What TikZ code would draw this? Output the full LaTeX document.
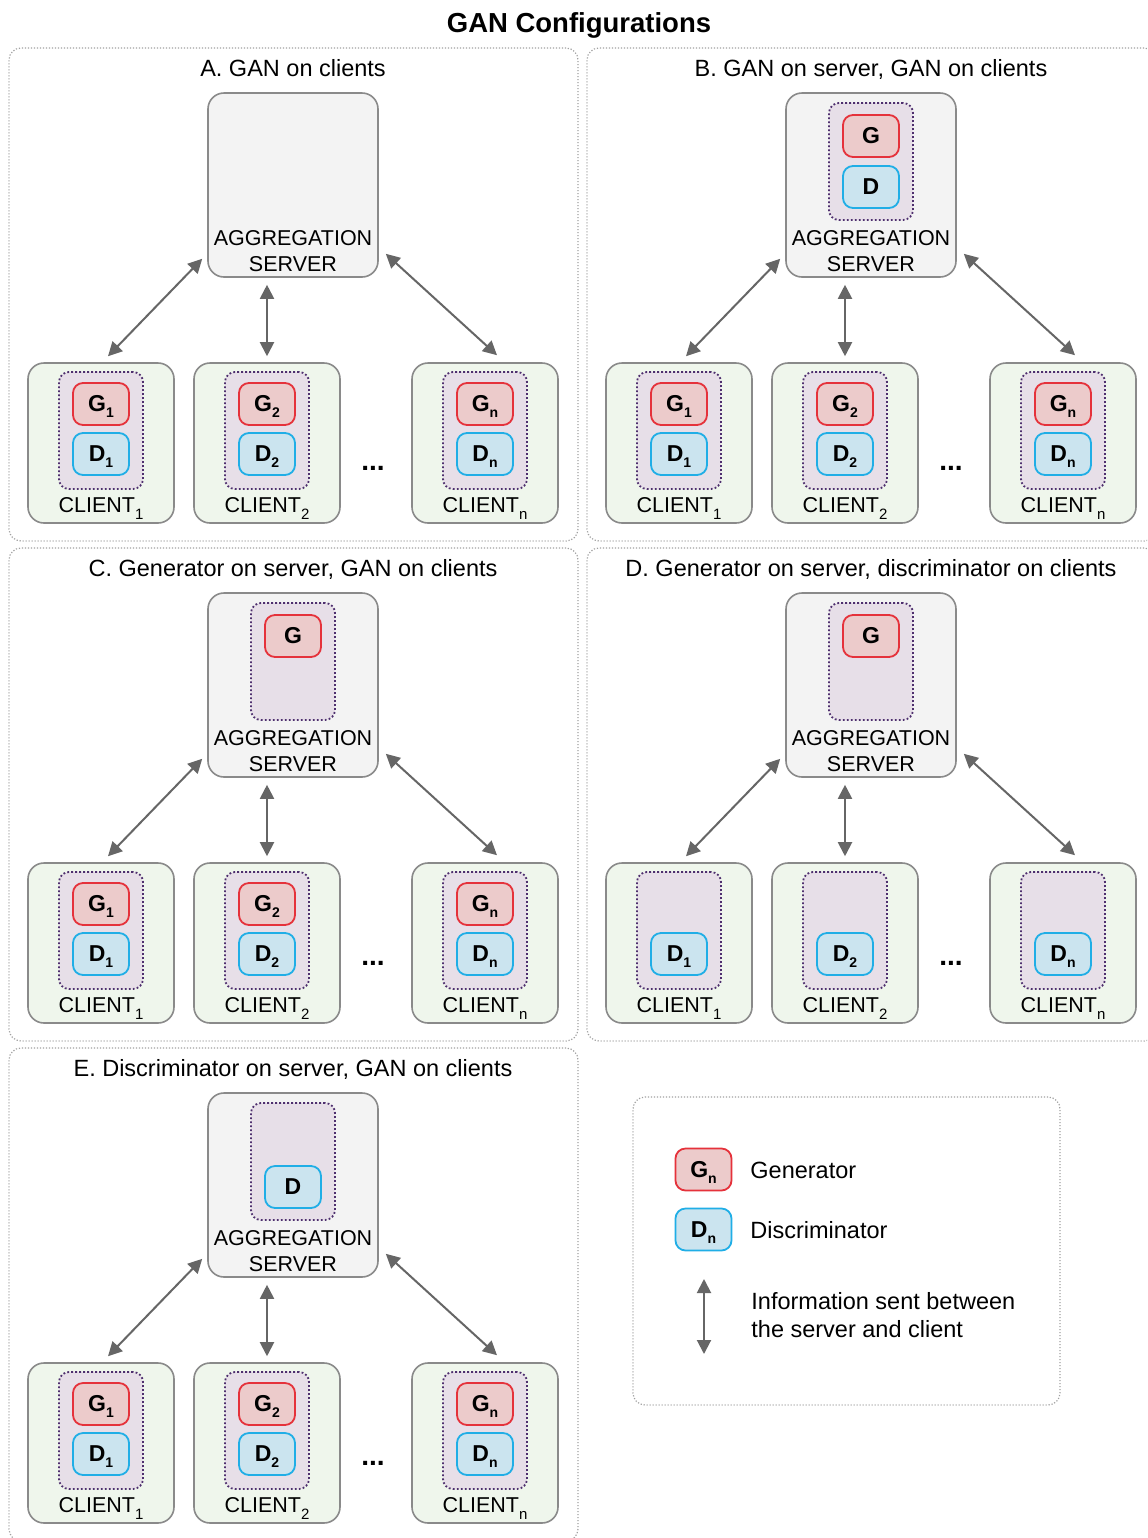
\documentclass[tikz,border=0pt]{standalone}
\usepackage{fontspec}
\setmainfont{Liberation Sans}
\usetikzlibrary{arrows.meta,calc}
\definecolor{panelgray}{HTML}{A0A0A0}
\definecolor{boxgray}{HTML}{8A8A8A}
\definecolor{srvfill}{HTML}{F3F3F3}
\definecolor{clifill}{HTML}{EFF6EC}
\definecolor{ganfill}{HTML}{E7DFE8}
\definecolor{ganpurple}{HTML}{4E2F6E}
\definecolor{gfill}{HTML}{ECCBCB}
\definecolor{gred}{HTML}{E5323B}
\definecolor{dfill}{HTML}{CBE4EF}
\definecolor{dblue}{HTML}{20AEE6}
\definecolor{arrgray}{HTML}{666666}
\newcommand\gsub[1]{\smash{\raisebox{-3pt}{\fontsize{7}{7}\selectfont #1}}}
\newcommand\csub[1]{\smash{\raisebox{-3.5pt}{\fontsize{7.5}{7.5}\selectfont #1}}}
\tikzset{
 panelbox/.style={draw=panelgray, line width=0.6pt, dash pattern=on 0.6pt off 0.9pt, rounded corners=6pt, inner sep=0pt},
 srvbox/.style={draw=boxgray, fill=srvfill, line width=0.8pt, rounded corners=8pt, minimum width=85pt, minimum height=92pt, inner sep=0pt},
 clibox/.style={draw=boxgray, fill=clifill, line width=0.8pt, rounded corners=8pt, minimum width=73pt, minimum height=80pt, inner sep=0pt},
 ganbox/.style={draw=ganpurple, fill=ganfill, line width=0.9pt, dash pattern=on 0.9pt off 1.1pt, rounded corners=5pt, minimum width=42pt, minimum height=58.5pt, inner sep=0pt},
 gbox/.style={draw=gred, fill=gfill, line width=0.9pt, rounded corners=5pt, minimum width=28pt, minimum height=21pt, inner sep=0pt, font=\bfseries\fontsize{11.5}{11.5}\selectfont},
 dbox/.style={draw=dblue, fill=dfill, line width=0.9pt, rounded corners=5pt, minimum width=28pt, minimum height=21pt, inner sep=0pt, font=\bfseries\fontsize{11.5}{11.5}\selectfont},
 lbl/.style={font=\fontsize{10.75}{13}\selectfont, align=center, inner sep=0pt},
 ttl/.style={font=\fontsize{11.75}{14}\selectfont, inner sep=0pt},
 dotsty/.style={font=\bfseries\fontsize{14}{14}\selectfont, inner sep=0pt},
 conn/.style={draw=arrgray, line width=1pt, {Triangle[length=7pt,width=7pt]}-{Triangle[length=7pt,width=7pt]}},
}
% #1 prefix, #2 dx, #3 dy, #4 title, #5 server (0 none,1 GD,2 G,3 D), #6 clients (1 GD, 2 D), #7 dots y
\newcommand\ganpanel[7]{%
\begin{scope}[shift={(#2,#3)}]
 \node[panelbox, minimum width=284.5pt, minimum height=246.5pt] (#1panel) at (293.5,294.5) {};
 \node[ttl, anchor=base] (#1title) at (293,76.5) {#4};
 \node[srvbox] (#1srv) at (293,185) {};
 \ifnum#5>0 \node[ganbox] (#1sgan) at (293,161.5) {};\fi
 \ifnum#5=1 \node[gbox] (#1sG) at (293,136) {G}; \node[dbox] (#1sD) at (293,187) {D};\fi
 \ifnum#5=2 \node[gbox] (#1sG) at (293,136) {G};\fi
 \ifnum#5=3 \node[dbox] (#1sD) at (293,187) {D};\fi
 \node[lbl] (#1srvlbl) at (293,251) {AGGREGATION\\SERVER};
 \foreach \cx/\ci in {101/1,267/2,485/n}{
   \node[clibox] (#1c\ci) at (\cx,443) {};
   \node[ganbox] (#1cg\ci) at (\cx,430.5) {};
   \ifnum#6=1 \node[gbox] (#1cG\ci) at (\cx,404) {G\gsub{\ci}};\fi
   \node[dbox] (#1cD\ci) at (\cx,454) {D\gsub{\ci}};
   \node[lbl] (#1cl\ci) at (\cx,505) {CLIENT\csub{\ci}};
 }
 \node[dotsty] (#1dots) at (373,#7) {...};
 \coordinate (#1mid) at (#1c2.north |- #1srv.south);
 \draw[conn] ([xshift=3.5pt,yshift=3pt]#1c1.north) -- ([xshift=-2.5pt,yshift=9.5pt]#1srv.south west);
 \draw[conn] ([yshift=3pt]#1c2.north) -- ([yshift=-3.5pt]#1mid);
 \draw[conn] ([xshift=6pt,yshift=3.5pt]#1cn.north) -- ([xshift=3.5pt,yshift=12pt]#1srv.south east);
\end{scope}}
\begin{document}
\begin{tikzpicture}[x=0.5pt,y=-0.5pt]
\useasboundingbox (0,0) rectangle (1147,1538);
\clip (0,0) rectangle (1147,1538);
\fill[white] (0,0) rectangle (1147,1538);
\node[font=\bfseries\fontsize{13.75}{16}\selectfont, inner sep=0pt, anchor=base] (title) at (579,32) {GAN Configurations};
\ganpanel{A}{0}{0}{A. GAN on clients}{0}{1}{468}
\ganpanel{B}{578}{0}{B. GAN on server, GAN on clients}{1}{1}{468}
\ganpanel{C}{0}{500}{C. Generator on server, GAN on clients}{2}{1}{463}
\ganpanel{D}{578}{500}{D. Generator on server, discriminator on clients}{2}{2}{463}
\ganpanel{E}{0}{1000}{E. Discriminator on server, GAN on clients}{3}{1}{463}
% legend
\node[panelbox, minimum width=213.5pt, minimum height=154pt] (legend) at (846.5,1251) {};
\node[gbox] (lgG) at (703.5,1169.5) {G\gsub{n}};
\node[dbox] (lgD) at (703.5,1229.5) {D\gsub{n}};
\node[ttl, anchor=base west] (lgGt) at (750,1178.5) {Generator};
\node[ttl, anchor=base west] (lgDt) at (750,1238.5) {Discriminator};
\coordinate (lga) at (704,1279);
\coordinate (lgb) at (704,1354);
\draw[conn] (lga) -- (lgb);
\node[ttl, anchor=west, align=left] (lgAt) at (751,1315) {Information sent between\\the server and client};
\end{tikzpicture}
\end{document}
